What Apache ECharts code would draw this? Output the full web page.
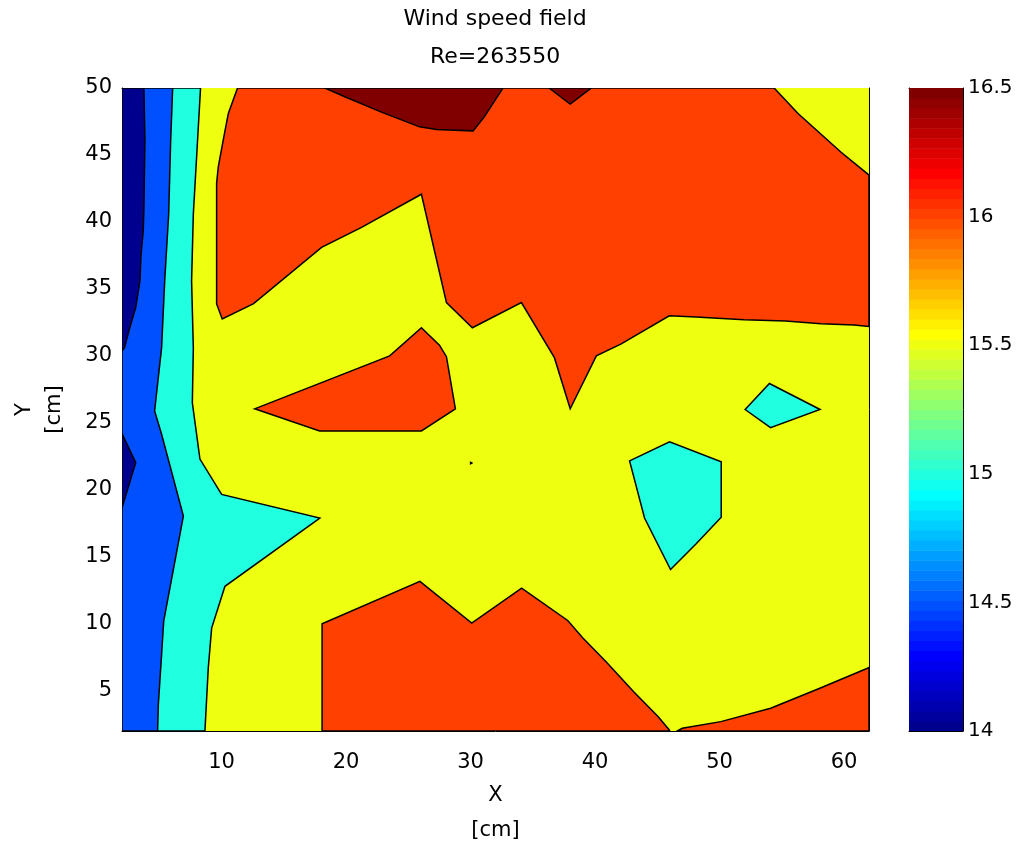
<!DOCTYPE html>
<html>
<head>
<meta charset="utf-8">
<script src="https://cdn.jsdelivr.net/npm/echarts/dist/echarts.min.js"></script>
<style>
  html, body { margin: 0; padding: 0; background: #fff; }
  #chart { width: 1018px; height: 847px; }
</style>
</head>
<body>
<div id="chart"></div>
<script>
// Axis ticks
const xTicks = [10, 20, 30, 40, 50, 60];
const yTicks = [5, 10, 15, 20, 25, 30, 35, 40, 45, 50];
const cbarTicks = [14, 14.5, 15, 15.5, 16, 16.5];
const cRange = [14, 16.5];

// Filled contour regions, vertices as [x cm, y cm]; value = lower contour level of the band
const fieldFrame = [[2, 2], [62, 2], [62, 50], [2, 50]];              // 15.5 band (background)

const cyanStrip = [[2, 50], [8.31, 50], [8.07, 46.1], [7.73, 40.6], [7.59, 35.6], [7.73, 30.6],
  [7.65, 26.5], [8.26, 22.3], [10.0, 19.66], [17.89, 17.9], [10.27, 12.8], [9.2, 9.68],
  [8.93, 6.69], [8.66, 2], [2, 2]];                                      // 15

const blueStrip = [[2, 50], [6.07, 50], [5.91, 46.1], [5.75, 40.6], [5.43, 35.6], [5.18, 30.6],
  [4.62, 25.9], [5.18, 24.15], [6.93, 18.04], [5.35, 10.2], [5.18, 7.7], [4.92, 4.0],
  [4.86, 2], [2, 2]];                                                    // 14.5

const navyUpper = [[2, 50], [3.76, 50], [3.84, 46.1], [3.76, 41.1], [3.71, 39.4], [3.52, 37.4],
  [3.44, 35.6], [3.1, 33.6], [2.56, 31.9], [2.2, 30.6], [2, 30.4]];     // 14

const navyLower = [[2, 24.2], [3.1, 22.03], [2, 18.66]];               // 14

const orangeUpper = [[11.28, 50], [10.54, 48.1], [10.16, 46.26], [9.73, 44.1], [9.6, 42.9],
  [9.6, 33.88], [10.05, 32.76], [12.57, 33.9], [18.03, 38.1], [21.24, 39.6], [26.05, 42.07],
  [28.06, 33.98], [30.14, 32.1], [34.08, 33.98], [36.73, 29.87], [38.0, 26.05], [40.1, 30.0],
  [42.1, 30.9], [45.96, 33.0], [48.1, 32.9], [51.97, 32.7], [55.3, 32.6], [58.15, 32.4],
  [60.8, 32.3], [62, 32.2], [62, 43.5], [59.76, 45.2], [56.3, 48.1], [54.38, 50]]; // 16

const orangeMiddle = [[12.65, 26.05], [17.87, 24.4], [26.05, 24.4], [28.78, 26.05],
  [28.06, 29.94], [27.5, 30.8], [26.05, 32.1], [23.5, 30.0]];           // 16

const orangeSpeck = [[30.0, 22.05], [30.1, 22.0], [30.0, 21.95]];      // 16

const orangeLowerLeft = [[18.07, 2], [18.07, 10.0], [25.93, 13.17], [30.09, 10.05],
  [34.1, 12.67], [37.8, 10.25], [39.0, 8.96], [40.9, 7.15], [43.1, 4.93], [45.07, 3.07],
  [45.96, 2.08], [46.0, 2]];                                             // 16

const orangeLowerRight = [[46.6, 2], [47.0, 2.2], [50.1, 2.7], [54.1, 3.7], [58.0, 5.17],
  [62, 6.73], [62, 2]];                                                  // 16

const darkRedLeft = [[18.3, 50], [19.9, 49.35], [22.84, 48.2], [25.9, 47.1], [27.26, 46.9],
  [30.2, 46.8], [31.1, 47.85], [32.6, 50]];                             // 16.5

const darkRedRight = [[36.3, 50], [38.0, 48.8], [39.7, 50]];           // 16.5

const cyanIslandA = [[42.77, 22.16], [45.98, 23.58], [50.13, 22.1], [50.13, 17.96],
  [48.1, 15.96], [46.06, 14.05], [43.97, 17.9]];                         // 15

const cyanIslandB = [[52.05, 26.0], [54.0, 27.94], [58.07, 26.0], [54.09, 24.65]]; // 15

// Drawing order: lower layers first
const regions = [
  { level: 15.5, pts: fieldFrame, edge: false },
  { level: 15, pts: cyanStrip, edge: true },
  { level: 14.5, pts: blueStrip, edge: true },
  { level: 14, pts: navyUpper, edge: true },
  { level: 14, pts: navyLower, edge: true },
  { level: 16, pts: orangeUpper, edge: true },
  { level: 16, pts: orangeMiddle, edge: true },
  { level: 16, pts: orangeSpeck, edge: true },
  { level: 16, pts: orangeLowerLeft, edge: true },
  { level: 16, pts: orangeLowerRight, edge: true },
  { level: 16.5, pts: darkRedLeft, edge: true },
  { level: 16.5, pts: darkRedRight, edge: true },
  { level: 15, pts: cyanIslandA, edge: true },
  { level: 15, pts: cyanIslandB, edge: true }
];

// MATLAB-style "jet" colormap with m entries
function jet(m) {
  const n = Math.ceil(m / 4);
  const u = [];
  for (let i = 1; i <= n; i++) u.push(i / n);
  for (let i = 1; i < n; i++) u.push(1);
  for (let i = n; i >= 1; i--) u.push(i / n);
  const g0 = Math.ceil(n / 2) - (m % 4 === 1 ? 1 : 0);
  const J = Array.from({ length: m }, () => [0, 0, 0]);
  u.forEach((v, j) => {
    const g = g0 + j + 1;
    const r = g + n;
    if (g >= 1 && g <= m) J[g - 1][1] = v;
    if (r >= 1 && r <= m) J[r - 1][0] = v;
  });
  const bs = u.map((_, j) => g0 + j + 1 - n).filter(b => b >= 1);
  const tail = u.slice(u.length - bs.length);
  bs.forEach((b, k) => { if (b <= m) J[b - 1][2] = tail[k]; });
  return J.map(c => 'rgb(' + c.map(v => Math.round(v * 255)).join(',') + ')');
}

const CMAP_N = 64;
const cmap = jet(CMAP_N);
function levelColor(v) {
  const t = (v - cRange[0]) / (cRange[1] - cRange[0]);
  const idx = Math.max(0, Math.min(CMAP_N - 1, Math.floor(t * CMAP_N + 1e-9)));
  return cmap[idx];
}

// Colour bar bands
const cbarBands = cmap.map((c, i) => {
  const step = (cRange[1] - cRange[0]) / CMAP_N;
  return [0, cRange[0] + i * step, 1, cRange[0] + (i + 1) * step, i];
});

const FONT = 'DejaVu Sans';
const black = '#000';

function boxAxis(extra) {
  return Object.assign({
    type: 'value',
    axisLine: { show: true, onZero: false, lineStyle: { color: black, width: 1 } },
    splitLine: { show: false },
    axisLabel: { show: false },
    axisTick: { show: false }
  }, extra);
}
function innerTicks(values) {
  return { show: true, inside: true, length: 7, customValues: values, lineStyle: { color: black, width: 1 } };
}
function tickLabels(values, margin, size) {
  return { show: true, customValues: values, color: black, fontSize: size, fontFamily: FONT, margin: margin };
}

const chart = echarts.init(document.getElementById('chart'), null, { renderer: 'canvas' });

chart.setOption({
  animation: false,
  backgroundColor: '#fff',
  title: {
    text: 'Wind speed field\nRe=263550',
    left: 495,
    top: 0,
    padding: 0,
    textAlign: 'center',
    textStyle: { fontFamily: FONT, fontSize: 22, fontWeight: 'normal', color: black, lineHeight: 38 }
  },
  grid: [
    { left: 122, top: 88, width: 747, height: 643, outerBoundsMode: 'none', containLabel: false },
    { left: 909, top: 88, width: 54, height: 643, outerBoundsMode: 'none', containLabel: false }
  ],
  xAxis: [
    boxAxis({
      gridIndex: 0, min: 2, max: 62, position: 'bottom',
      axisTick: innerTicks(xTicks),
      axisLabel: tickLabels(xTicks, 21, 21),
      name: 'X\n[cm]', nameLocation: 'middle', nameGap: 46,
      nameTextStyle: { fontFamily: FONT, fontSize: 21, color: black, lineHeight: 35 }
    }),
    boxAxis({ gridIndex: 0, min: 2, max: 62, position: 'top', axisTick: innerTicks(xTicks) }),
    boxAxis({ gridIndex: 1, min: 0, max: 1, position: 'bottom' }),
    boxAxis({ gridIndex: 1, min: 0, max: 1, position: 'top' })
  ],
  yAxis: [
    boxAxis({
      gridIndex: 0, min: 2, max: 50, position: 'left',
      axisTick: innerTicks(yTicks),
      axisLabel: tickLabels(yTicks, 10, 21),
      name: 'Y\n[cm]', nameLocation: 'middle', nameRotate: 90, nameGap: 52,
      nameTextStyle: { fontFamily: FONT, fontSize: 21, color: black, lineHeight: 30 }
    }),
    boxAxis({ gridIndex: 0, min: 2, max: 50, position: 'right', axisTick: innerTicks(yTicks) }),
    boxAxis({ gridIndex: 1, min: cRange[0], max: cRange[1], position: 'left', axisTick: innerTicks(cbarTicks) }),
    boxAxis({
      gridIndex: 1, min: cRange[0], max: cRange[1], position: 'right',
      axisTick: innerTicks(cbarTicks),
      axisLabel: tickLabels(cbarTicks, 5, 20)
    })
  ],
  series: [
    {
      type: 'custom',
      name: 'contours',
      xAxisIndex: 0,
      yAxisIndex: 0,
      clip: true,
      silent: true,
      z: 1,
      data: regions.map(r => [r.pts[0][0], r.pts[0][1], r.level]),
      renderItem: function (params, api) {
        const r = regions[params.dataIndex];
        return {
          type: 'polygon',
          shape: { points: r.pts.map(p => api.coord(p)) },
          style: {
            fill: levelColor(r.level),
            stroke: r.edge ? black : null,
            lineWidth: r.edge ? 1.5 : 0
          }
        };
      }
    },
    {
      type: 'custom',
      name: 'colorbar',
      xAxisIndex: 2,
      yAxisIndex: 2,
      clip: true,
      silent: true,
      z: 1,
      data: cbarBands,
      renderItem: function (params, api) {
        const p0 = api.coord([api.value(0), api.value(1)]);
        const p1 = api.coord([api.value(2), api.value(3)]);
        return {
          type: 'rect',
          shape: { x: p0[0], y: p1[1], width: p1[0] - p0[0], height: p0[1] - p1[1] + 0.5 },
          style: { fill: cmap[api.value(4)] }
        };
      }
    }
  ]
});
</script>
</body>
</html>
